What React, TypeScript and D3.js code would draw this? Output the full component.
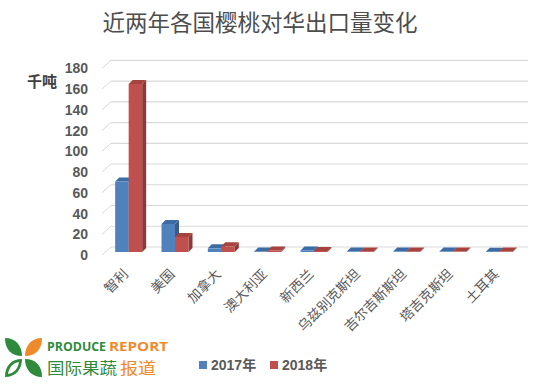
import React from "react";
import * as d3 from "d3";

const categories = ["智利", "美国", "加拿大", "澳大利亚", "新西兰", "乌兹别克斯坦", "吉尔吉斯斯坦", "塔吉克斯坦", "土耳其"];
const series = ["2017年", "2018年"];
const values2017 = [68, 27, 3.5, 0.6, 1.5, 0.4, 0.4, 0.4, 0.3];
const values2018 = [162, 14.5, 5.5, 1.5, 1.0, 0.6, 0.6, 0.4, 0.5];
const yTicks = [0, 20, 40, 60, 80, 100, 120, 140, 160, 180];

const W = 554;
const H = 385;
const colors = ["#4f81bd", "#c0504d"];
const sideColors = ["#385d8a", "#8b3a38"];
const topColors = ["#3d6ba3", "#a5433f"];

const backDx = 9;
const backDy = -8;
const barOffX = 3.5;
const barOffY = -3;
const barDx = 4;
const barDy = -4;

export default function App() {
  const x = d3.scaleBand<string>().domain(categories).range([102, 519]).paddingInner(0).paddingOuter(0);
  const y = d3.scaleLinear().domain([0, 180]).range([255, 68.3]);
  const groupW = 27;
  const xs = d3.scaleBand<string>().domain(series).range([-groupW / 2, groupW / 2]);
  const data = [values2017, values2018];
  const gridColor = "#d9d9d9";
  const textColor = "#595959";

  const bars: JSX.Element[] = [];
  categories.forEach((c, i) => {
    const cx = (x(c) as number) + x.bandwidth() / 2 + barOffX;
    series.forEach((s, j) => {
      const v = data[j][i];
      const x0 = cx + (xs(s) as number);
      const x1 = x0 + xs.bandwidth();
      const yb = y(0) + barOffY;
      const yt = y(v) + barOffY;
      bars.push(
        <g key={`${c}-${s}`}>
          <polygon
            points={`${x1},${yt} ${x1 + barDx},${yt + barDy} ${x1 + barDx},${yb + barDy} ${x1},${yb}`}
            fill={sideColors[j]}
          />
          <polygon
            points={`${x0},${yt} ${x0 + barDx},${yt + barDy} ${x1 + barDx},${yt + barDy} ${x1},${yt}`}
            fill={topColors[j]}
          />
          <rect x={x0} y={yt} width={x1 - x0} height={Math.max(0, yb - yt)} fill={colors[j]} />
        </g>
      );
    });
  });

  return (
    <svg width={W} height={H} style={{ position: "absolute", left: 0, top: 0, background: "#fff" }}>
      <text x={260} y={31} textAnchor="middle" fontFamily="'Noto Sans CJK SC', sans-serif" fontSize={22.5} fill="#4d4d4d">
        近两年各国樱桃对华出口量变化
      </text>

      {yTicks.map((t) => (
        <g key={t}>
          <line x1={102} y1={y(t)} x2={102 + backDx} y2={y(t) + backDy} stroke={gridColor} strokeWidth={1} />
          <line x1={102 + backDx} y1={y(t) + backDy} x2={519 + backDx} y2={y(t) + backDy} stroke={gridColor} strokeWidth={1.2} />
        </g>
      ))}

      {bars}

      {yTicks.map((t) => (
        <text key={t} x={88} y={y(t)} dy="0.36em" textAnchor="end" fontFamily="'Liberation Sans', Arial, sans-serif" fontWeight="bold" fontSize={14} fill={textColor}>
          {t}
        </text>
      ))}
      <text x={57} y={87} textAnchor="end" fontFamily="'Noto Sans CJK SC', sans-serif" fontWeight="bold" fontSize={15} fill="#404040">
        千吨
      </text>

      {categories.map((c) => {
        const cx = (x(c) as number) + x.bandwidth() / 2 + 4;
        return (
          <text key={c} transform={`translate(${cx},275) rotate(-45)`} textAnchor="end" fontFamily="'Noto Sans CJK SC', sans-serif" fontSize={13.5} fill={textColor}>
            {c}
          </text>
        );
      })}

      {series.map((s, j) => {
        const lx = 199 + j * 71;
        return (
          <g key={s}>
            <rect x={lx} y={361} width={8} height={8} fill={colors[j]} />
            <text x={lx + 12} y={370} fontFamily="'Liberation Sans', Arial, 'Noto Sans CJK SC', sans-serif" fontWeight="bold" fontSize={14} fill={textColor}>
              {s}
            </text>
          </g>
        );
      })}

      <g>
        <path d="M22,356 C22,346 16,338 5,338 C5,349 11,356 22,356 Z" fill="#2f8a3c" />
        <path d="M25,356 C25,346 31,338 42,338 C42,349 36,356 25,356 Z" fill="#ef8a2a" />
        <path d="M22,359 C11,359 5,366 5,377 C16,377 22,369 22,359 Z" fill="#2f8a3c" />
        <path d="M19,362 C13,363 9,367 8,374 C14,373 18,369 19,362 Z" fill="#fff" />
        <path d="M25,359 C36,359 42,366 42,377 C31,377 25,369 25,359 Z" fill="#2f8a3c" />
        <text x={47} y={351} fontFamily="'Open Sans', sans-serif" fontWeight="bold" fontSize={12.5} fill="#2f8a3c" textLength={59} lengthAdjust="spacingAndGlyphs">
          PRODUCE
        </text>
        <text x={109} y={351} fontFamily="'Open Sans', sans-serif" fontWeight="bold" fontSize={12.5} fill="#ef8a2a" textLength={59} lengthAdjust="spacingAndGlyphs">
          REPORT
        </text>
        <text x={47} y={374} fontFamily="'Noto Sans CJK SC', sans-serif" fontSize={16} fill="#2f8a3c" textLength={70} lengthAdjust="spacingAndGlyphs">
          国际果蔬
        </text>
        <text x={120} y={374} fontFamily="'Noto Sans CJK SC', sans-serif" fontSize={16} fill="#ef8a2a" textLength={36} lengthAdjust="spacingAndGlyphs">
          报道
        </text>
      </g>
    </svg>
  );
}
